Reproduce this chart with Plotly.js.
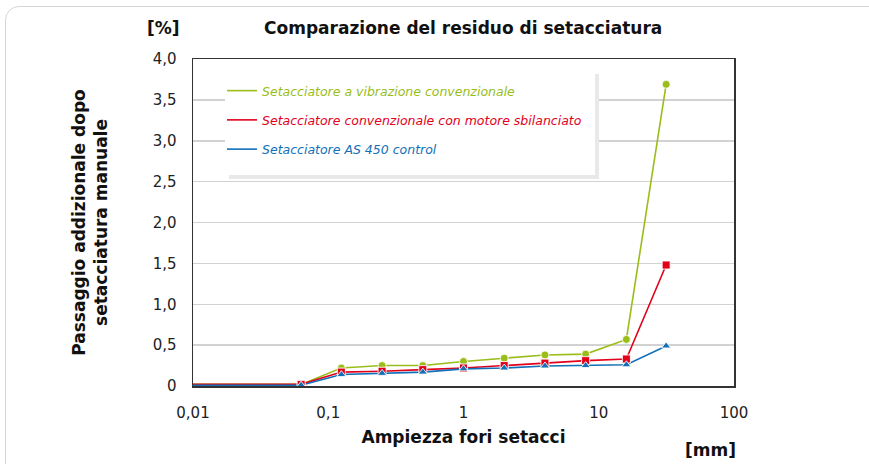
<!DOCTYPE html>
<html>
<head>
<meta charset="utf-8">
<script src="https://cdn.plot.ly/plotly-3.0.1.min.js"></script>
<style>
html,body{margin:0;padding:0;background:#fff;overflow:hidden;}
#frame{position:absolute;left:5px;top:6px;width:900px;height:500px;border:1.5px solid #d6d6d6;border-radius:14px;}
#chart{position:absolute;left:0;top:0;width:869px;height:464px;}
</style>
</head>
<body>
<div id="frame"></div>
<div id="chart"></div>
<script>
// sieve apertures [mm]
const sieveSizes = [0.005, 0.063, 0.125, 0.25, 0.5, 1, 2, 4, 8, 16, 31.5];
const seriesNames = [
  'Setacciatore a vibrazione convenzionale',
  'Setacciatore convenzionale con motore sbilanciato',
  'Setacciatore AS 450 control'
];
const vibrationValues  = [0.02, 0.02, 0.22, 0.25, 0.25, 0.30, 0.34, 0.38, 0.39, 0.57, 3.69];
const unbalancedValues = [0.02, 0.02, 0.17, 0.18, 0.20, 0.22, 0.25, 0.28, 0.31, 0.33, 1.48];
const as450Values      = [0.01, 0.01, 0.14, 0.155, 0.17, 0.21, 0.22, 0.245, 0.25, 0.26, 0.49];
const yTickVals = [0, 0.5, 1, 1.5, 2, 2.5, 3, 3.5, 4];
const yTickText = ['0', '0,5', '1,0', '1,5', '2,0', '2,5', '3,0', '3,5', '4,0'];
const xTickVals = [0.01, 0.1, 1, 10, 100];
const xTickText = ['0,01', '0,1', '1', '10', '100'];

const colors = ['#9abd1a', '#e3001b', '#1170b8'];
const symbols = ['circle', 'square', 'triangle-up'];
const allValues = [vibrationValues, unbalancedValues, as450Values];

const traces = [];
allValues.forEach((vals, i) => {
  traces.push({
    x: sieveSizes, y: vals, type: 'scatter', mode: 'lines',
    name: '<span style="color:' + colors[i] + '">' + seriesNames[i] + '</span>',
    legendgroup: 'g' + i,
    line: {color: colors[i], width: 1.6},
    hoverinfo: 'skip'
  });
});
allValues.forEach((vals, i) => {
  traces.push({
    x: sieveSizes, y: vals, type: 'scatter', mode: 'markers',
    showlegend: false, legendgroup: 'g' + i,
    marker: {color: colors[i], symbol: symbols[i], size: 8,
             line: {color: 'rgba(255,255,255,0.85)', width: 1}}
  });
});

const px0 = 193, px1 = 734, py0 = 59, py1 = 386;
const W = px1 - px0, H = py1 - py0;
const fx = v => (v - px0) / W;
const fy = v => (py1 - v) / H;

const layout = {
  width: 869, height: 464,
  margin: {l: px0, r: 869 - px1, t: py0, b: 464 - py1},
  paper_bgcolor: 'rgba(0,0,0,0)', plot_bgcolor: '#fff',
  font: {family: 'DejaVu Sans, Verdana, sans-serif', size: 15, color: '#222'},
  title: {text: '<b>Comparazione del residuo di setacciatura</b>',
          font: {size: 17, color: '#111'}, x: 0.533, xanchor: 'center', y: 0.94, yanchor: 'middle'},
  xaxis: {
    type: 'log', range: [-2, 2],
    tickvals: xTickVals, ticktext: xTickText,
    ticks: '', ticklabelstandoff: 12,
    showgrid: false, zeroline: false,
    showline: true, linecolor: '#333', linewidth: 1.5, mirror: true,
    title: {text: '<b>Ampiezza fori setacci</b>', font: {size: 17, color: '#111'}, standoff: 10},
    automargin: false
  },
  yaxis: {
    range: [0, 4], tickvals: yTickVals, ticktext: yTickText,
    ticks: '', ticklabelstandoff: 12,
    showgrid: true, gridcolor: '#d2d2d2', gridwidth: 1.5, zeroline: false,
    showline: true, linecolor: '#333', linewidth: 1.5, mirror: true,
    title: {text: '<b>Passaggio addizionale dopo<br>setacciatura manuale</b>', font: {size: 17, color: '#111'}, standoff: 40},
    automargin: false
  },
  showlegend: true,
  legend: {
    x: fx(222), y: fy(76), xanchor: 'left', yanchor: 'top',
    bgcolor: 'rgba(0,0,0,0)', borderwidth: 0,
    font: {size: 12.5, style: 'italic'}, tracegroupgap: 10,
    itemwidth: 30
  },
  shapes: [
    {type: 'rect', xref: 'paper', yref: 'paper', layer: 'above',
     x0: fx(229), x1: fx(599), y0: fy(179), y1: fy(74),
     fillcolor: '#e9e9e9', line: {width: 0}},
    {type: 'rect', xref: 'paper', yref: 'paper', layer: 'above',
     x0: fx(225), x1: fx(595), y0: fy(175), y1: fy(70),
     fillcolor: '#ffffff', line: {width: 0}}
  ],
  annotations: [
    {text: '<b>[%]</b>', xref: 'paper', yref: 'paper', x: fx(163), y: fy(28),
     xanchor: 'center', yanchor: 'middle', showarrow: false, font: {size: 17, color: '#111'}},
    {text: '<b>[mm]</b>', xref: 'paper', yref: 'paper', x: fx(710), y: fy(450),
     xanchor: 'center', yanchor: 'middle', showarrow: false, font: {size: 17, color: '#111'}}
  ]
};

Plotly.newPlot('chart', traces, layout, {displayModeBar: false, staticPlot: true});
</script>
</body>
</html>
